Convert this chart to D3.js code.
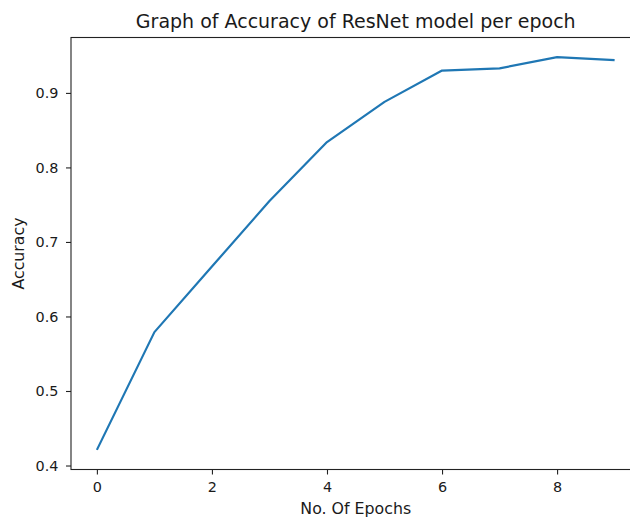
<!DOCTYPE html>
<html>
<head>
<meta charset="utf-8">
<script src="https://cdn.jsdelivr.net/npm/d3@7"></script>
<style>
  html, body { margin: 0; padding: 0; background: #fff; }
  svg { display: block; }
  text { font-family: "DejaVu Sans", sans-serif; fill: #1a1a1a; }
</style>
</head>
<body>
<svg id="chart" width="630" height="520"></svg>
<script>
// Data
const epochs = [0, 1, 2, 3, 4, 5, 6, 7, 8, 9];
const accuracy = [0.421, 0.579, 0.667, 0.755, 0.834, 0.888, 0.930, 0.933, 0.948, 0.944];
const xTicks = [0, 2, 4, 6, 8];
const yTicks = [0.4, 0.5, 0.6, 0.7, 0.8, 0.9];
const titleText = "Graph of Accuracy of ResNet model per epoch";
const xLabelText = "No. Of Epochs";
const yLabelText = "Accuracy";

const svg = d3.select("#chart");
const mLeft = 71, mRight = 640.5, mTop = 37.5, mBottom = 469.5;

// matplotlib-style 5% margins
const xMin = d3.min(epochs), xMax = d3.max(epochs);
const xr = xMax - xMin;
const x = d3.scaleLinear().domain([xMin - 0.05 * xr, xMax + 0.05 * xr]).range([mLeft, mRight]);
const yMin = d3.min(accuracy), yMax = d3.max(accuracy);
const yr = yMax - yMin;
const y = d3.scaleLinear().domain([yMin - 0.05 * yr, yMax + 0.05 * yr]).range([mBottom, mTop]);

// Line
const line = d3.line().x((d, i) => x(epochs[i])).y(d => y(d));
svg.append("path")
  .datum(accuracy)
  .attr("d", line)
  .attr("fill", "none")
  .attr("stroke", "#1f77b4")
  .attr("stroke-width", 2.2)
  .attr("stroke-linejoin", "round")
  .attr("stroke-linecap", "butt");

// Axes
const xAxis = d3.axisBottom(x).tickValues(xTicks).tickFormat(d3.format("d")).tickSize(5).tickPadding(7.5);
const yAxis = d3.axisLeft(y).tickValues(yTicks).tickFormat(d3.format(".1f")).tickSize(5).tickPadding(7.5);

const gx = svg.append("g").attr("transform", `translate(0,${mBottom})`).call(xAxis);
const gy = svg.append("g").attr("transform", `translate(${mLeft},0)`).call(yAxis);
[gx, gy].forEach(g => {
  g.select(".domain").remove();
  g.selectAll(".tick line").attr("stroke", "#222").attr("stroke-width", 1.1);
  g.selectAll(".tick text").style("font-family", "DejaVu Sans").style("font-size", "14.4px").attr("fill", "#1a1a1a");
});

// Spines
svg.append("rect")
  .attr("x", mLeft).attr("y", mTop)
  .attr("width", mRight - mLeft).attr("height", mBottom - mTop)
  .attr("fill", "none").attr("stroke", "#222").attr("stroke-width", 1.1);

// Title
svg.append("text")
  .attr("x", (mLeft + mRight) / 2).attr("y", 28)
  .attr("text-anchor", "middle")
  .style("font-size", "19px")
  .text(titleText);

// X label
svg.append("text")
  .attr("x", (mLeft + mRight) / 2).attr("y", 514)
  .attr("text-anchor", "middle")
  .style("font-size", "15.8px")
  .text(xLabelText);

// Y label
svg.append("text")
  .attr("transform", `translate(24,${(mTop + mBottom) / 2}) rotate(-90)`)
  .attr("text-anchor", "middle")
  .style("font-size", "15.8px")
  .text(yLabelText);
</script>
</body>
</html>
